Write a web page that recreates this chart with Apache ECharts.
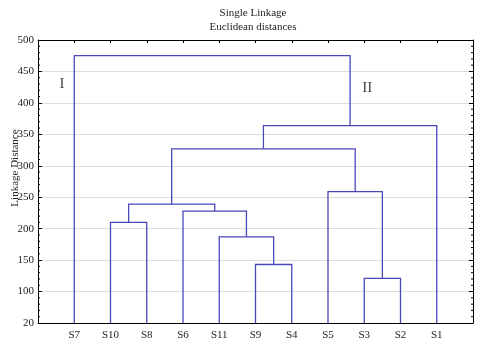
<!DOCTYPE html>
<html>
<head>
<meta charset="utf-8">
<script src="https://cdn.jsdelivr.net/npm/echarts@6/dist/echarts.min.js"></script>
<style>
html,body{margin:0;padding:0;background:#fff;}
#c{width:480px;height:347px;}
</style>
</head>
<body>
<div id="c"></div>
<script>
// Leaves in dendrogram order (left to right)
const leaves = ['S7','S10','S8','S6','S11','S9','S4','S5','S3','S2','S1'];
// Merges: [left child, right child, linkage distance]; 'M<n>' refers to merge n
const mergeLeft   = ['S9','S11','S6','S10','M3','S3','S5','M4','M7','S7'];
const mergeRight  = ['S4','M0','M1','S8','M2','S2','M5','M6','S1','M8'];
const mergeHeight = [143, 187, 228, 210, 239, 121, 259, 327, 364, 475];
// Y axis ticks and their printed labels (bottom tick is printed as "20" in the original)
const yTickValues = [50,100,150,200,250,300,350,400,450,500];
const yTickLabels = ['20','100','150','200','250','300','350','400','450','500'];
const clusterNames = ['I','II'];

const FONT = '"Liberation Serif", "DejaVu Serif", serif';
const LINE_COLOR = '#4848bb';
const base = yTickValues[0];
const yMin = yTickValues[0], yMax = yTickValues[yTickValues.length - 1];

const nodes = {};
leaves.forEach((n,i) => { nodes[n] = {x: i + 1, y: base}; });
const linkData = [];
mergeHeight.forEach((h,i) => {
  const l = nodes[mergeLeft[i]], r = nodes[mergeRight[i]];
  linkData.push({coords: [[l.x, l.y],[l.x, h],[r.x, h],[r.x, r.y]]});
  nodes['M' + i] = {x: (l.x + r.x) / 2, y: h};
});
// minor tick positions (axis decoration, every 10 units)
const minorTicks = [];
for (let v = yMin + 10; v < yMax; v += 10) if (v % 50 !== 0) minorTicks.push([0, v]);

const chart = echarts.init(document.getElementById('c'), null, {renderer: 'canvas'});
const axisLineStyle = {color: '#000', width: 1};
chart.setOption({
  animation: false,
  backgroundColor: '#fff',
  title: [
    {text: 'Single Linkage', left: 248, top: 3, textAlign: 'center',
     textStyle: {fontFamily: FONT, fontSize: 11, fontWeight: 'normal', color: '#222'}},
    {text: 'Euclidean distances', left: 248, top: 17, textAlign: 'center',
     textStyle: {fontFamily: FONT, fontSize: 11, fontWeight: 'normal', color: '#222'}}
  ],
  graphic: [{
    type: 'text', x: 15, y: 168, rotation: Math.PI / 2,
    style: {text: 'Linkage Distance', font: '11px ' + FONT, fill: '#222',
            textAlign: 'center', textVerticalAlign: 'middle'}
  }],
  grid: {left: 38, right: 7, top: 40, bottom: 24, containLabel: false},
  xAxis: [
    {type: 'value', position: 'bottom', min: 0, max: leaves.length + 1, interval: 1,
     axisLine: {onZero: false, lineStyle: axisLineStyle}, axisTick: {show: false}, splitLine: {show: false},
     axisLabel: {formatter: v => leaves[v - 1] || '', fontFamily: FONT, fontSize: 11, color: '#222', margin: 7}},
    {type: 'value', position: 'top', min: 0, max: leaves.length + 1, interval: 1,
     axisLine: {onZero: false, lineStyle: axisLineStyle},
     axisTick: {show: true, inside: true, length: 3, lineStyle: {color: '#000'}},
     axisLabel: {show: false}, splitLine: {show: false}}
  ],
  yAxis: [
    {type: 'value', position: 'left', min: yMin, max: yMax, interval: 50,
     axisLine: {show: true, onZero: false, lineStyle: axisLineStyle},
     axisTick: {show: true, inside: true, length: 4, lineStyle: {color: '#000'}},
     splitLine: {show: true, lineStyle: {color: '#dcdcdc', width: 1}},
     axisLabel: {formatter: v => { const k = yTickValues.indexOf(v); return k >= 0 ? yTickLabels[k] : ''; },
                 fontFamily: FONT, fontSize: 11, color: '#222', margin: 4}},
    {type: 'value', position: 'right', min: yMin, max: yMax, interval: 50,
     axisLine: {show: true, onZero: false, lineStyle: axisLineStyle},
     axisTick: {show: true, inside: true, length: 4, lineStyle: {color: '#000'}},
     splitLine: {show: false}, axisLabel: {show: false}}
  ],
  series: [
    {type: 'lines', coordinateSystem: 'cartesian2d', polyline: true, xAxisIndex: 0, yAxisIndex: 0,
     lineStyle: {color: LINE_COLOR, width: 1.3, opacity: 1}, data: linkData, z: 3},
    {type: 'custom', xAxisIndex: 0, yAxisIndex: 0, silent: true, data: minorTicks, z: 4,
     renderItem: (params, api) => {
       const cs = params.coordSys;
       const py = api.coord([0, api.value(1)])[1];
       const st = {stroke: '#000', lineWidth: 1};
       return {type: 'group', children: [
         {type: 'line', shape: {x1: cs.x, y1: py, x2: cs.x + 2, y2: py}, style: st},
         {type: 'line', shape: {x1: cs.x + cs.width, y1: py, x2: cs.x + cs.width - 2, y2: py}, style: st}
       ]};
     }},
    {type: 'scatter', xAxisIndex: 0, yAxisIndex: 0, symbolSize: 0, silent: true,
     data: [{value: [0.66, 430], name: clusterNames[0]}, {value: [9.08, 424], name: clusterNames[1]}],
     label: {show: true, position: 'inside', formatter: p => p.name, fontFamily: FONT, fontSize: 15, color: '#111'}}
  ]
});
</script>
</body>
</html>
